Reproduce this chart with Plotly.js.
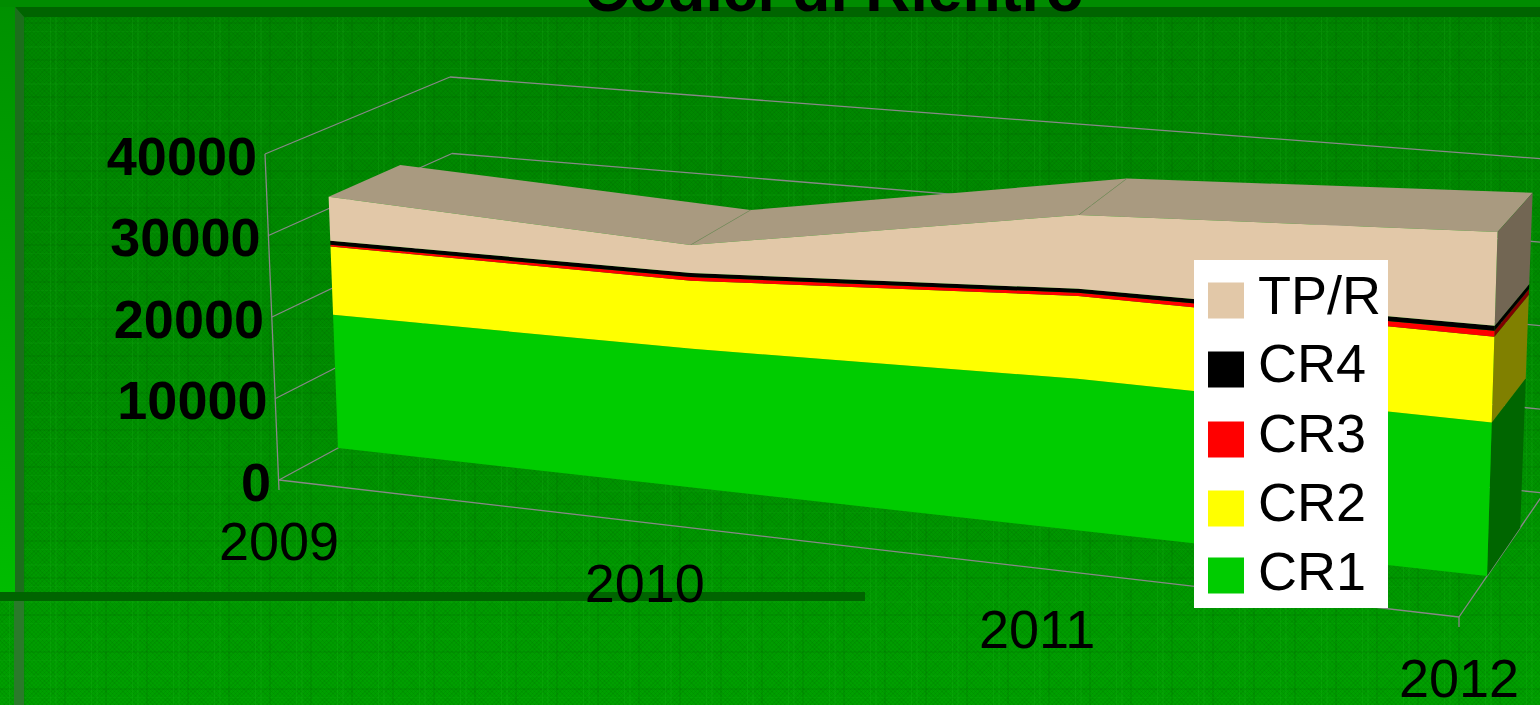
<!DOCTYPE html>
<html><head><meta charset="utf-8">
<script src="https://cdn.plot.ly/plotly-3.0.1.min.js"></script>
<style>
html,body{margin:0;padding:0;width:1540px;height:705px;overflow:hidden;background:#008800}
#chart{width:1540px;height:705px;
background:
 linear-gradient(180deg,#009000,#00BC00) 0 0/15px 592px no-repeat,
 repeating-linear-gradient(90deg,transparent 0 9px,rgba(40,200,40,.14) 9px 10px,transparent 10px 14px,rgba(40,200,40,.09) 14px 16px,transparent 16px 23px,rgba(0,70,0,.10) 23px 25px,transparent 25px 41px),
 repeating-linear-gradient(0deg,transparent 0 7px,rgba(40,200,40,.08) 7px 8px,transparent 8px 15px,rgba(0,70,0,.10) 15px 17px,transparent 17px 28px,rgba(40,200,40,.07) 28px 30px,transparent 30px 37px),
 repeating-linear-gradient(45deg,rgba(0,60,0,.08) 0 1px,transparent 1px 3px),
 repeating-linear-gradient(-45deg,rgba(0,60,0,.08) 0 1px,transparent 1px 3px),
 linear-gradient(180deg,#008600 0,#008c00 50%,#00a000 100%);}
</style></head><body><div id="chart"></div>
<script>
// ---- data ----
const years = [2009, 2010, 2011, 2012];
const CR1 = [16680, 16900, 17900, 17600];
const CR2 = [8560, 8300, 9800, 9830];
const CR3 = [210, 450, 360, 680];
const CR4 = [500, 490, 470, 580];
const TPR = [5520, 3405, 8730, 10740];
const seriesNames = ['CR1', 'CR2', 'CR3', 'CR4', 'TP/R'];
const seriesValues = [CR1, CR2, CR3, CR4, TPR];
const frontColors = ['#00CC00', '#FFFF00', '#FF0000', '#000000', '#E2C8A8'];
const sideColors = ['#006600', '#808000', '#800000', '#000000', '#726653'];
const topColor = '#A99A80';
const valueTicks = [0, 10000, 20000, 30000, 40000];
const chartTitle = 'Codici di Rientro';

// ---- 3D projection onto the flat page axes ----
const vMax = 40000, depthFront = 0.33, depthBack = 0.72, persp = 1.113;
const box = {
  fl0: [279, 480], fl1: [265, 154], bl0: [458, 383], bl1: [450, 77],
  fr0: [1459, 617], fr1: [1468, 260], br0: [1544, 493], br1: [1558, 160]
};
const lerp = (a, b, t) => [a[0] + (b[0] - a[0]) * t, a[1] + (b[1] - a[1]) * t];
function sOf(u) { return u / (u + persp * (1 - u)); }
function P(year, depth, value) {
  const s = sOf((year - years[0]) / (years[years.length - 1] - years[0]));
  const v = value / vMax;
  const floorF = lerp(box.fl0, box.fr0, s), floorB = lerp(box.bl0, box.br0, s);
  const topF = lerp(box.fl1, box.fr1, s), topB = lerp(box.bl1, box.br1, s);
  return lerp(lerp(floorF, floorB, depth), lerp(topF, topB, depth), v);
}
function poly(pts, color, name) {
  return { type: 'scatter', mode: 'lines', x: pts.map(p => p[0]).concat(pts[0][0]), y: pts.map(p => p[1]).concat(pts[0][1]),
    fill: 'toself', fillcolor: color, line: { width: 0, color: color }, name: name, showlegend: false, hoverinfo: 'skip' };
}
function seg(a, b, color, w) {
  return { type: 'scatter', mode: 'lines', x: [a[0], b[0]], y: [a[1], b[1]], line: { color: color, width: w }, showlegend: false, hoverinfo: 'skip' };
}
const traces = [];
const y0 = years[0], y1 = years[years.length - 1], grid = '#888888';

// walls and floor
valueTicks.forEach(v => {
  traces.push(seg(P(y0, 0, v), P(y0, 1, v), grid, 1.3));
  traces.push(seg(P(y0, 1, v), P(y1, 1, v), grid, 1.3));
});
traces.push(seg(P(y0, 0, 0), P(y1, 0, 0), grid, 1.3));
traces.push(seg(P(y1, 0, 0), P(y1, 1, 0), grid, 1.3));
traces.push(seg(P(y0, 0, vMax), [P(y0, 0, 0)[0], P(y0, 0, 0)[1] + 10], grid, 1.3));
traces.push(seg(P(y1, 0, 0), [P(y1, 0, 0)[0], P(y1, 0, 0)[1] + 10], grid, 1.3));

// cumulative stack
const cum = [years.map(() => 0)];
seriesValues.forEach((vals, i) => cum.push(vals.map((v, k) => cum[i][k] + v)));
const pileTop = cum[cum.length - 1];

// top surface of the pile
for (let k = 0; k < years.length - 1; k++) {
  traces.push(poly([P(years[k], depthFront, pileTop[k]), P(years[k + 1], depthFront, pileTop[k + 1]),
    P(years[k + 1], depthBack, pileTop[k + 1]), P(years[k], depthBack, pileTop[k])], topColor, 'top'));
}
for (let k = 1; k < years.length - 1; k++) {
  traces.push(seg(P(years[k], depthFront, pileTop[k]), P(years[k], depthBack, pileTop[k]), '#7d8a62', 0.7));
}
// right side, then front faces
seriesValues.forEach((vals, i) => {
  const n = years.length - 1;
  traces.push(poly([P(y1, depthFront, cum[i][n]), P(y1, depthBack, cum[i][n]),
    P(y1, depthBack, cum[i + 1][n]), P(y1, depthFront, cum[i + 1][n])], sideColors[i], seriesNames[i] + ' side'));
});
seriesValues.forEach((vals, i) => {
  const up = years.map((yr, k) => P(yr, depthFront, cum[i + 1][k]));
  const dn = years.map((yr, k) => P(yr, depthFront, cum[i][k])).reverse();
  traces.push(poly(up.concat(dn), frontColors[i], seriesNames[i]));
});

// axis labels
const labelFont = 'Liberation Sans, Arial, sans-serif';
traces.push({ type: 'scatter', mode: 'text', cliponaxis: false, showlegend: false, hoverinfo: 'skip',
  x: valueTicks.map(v => P(y0, 0, v)[0] - 8), y: valueTicks.map(v => P(y0, 0, v)[1] + 7),
  text: valueTicks.map(String), textposition: 'middle left',
  textfont: { family: labelFont, size: 54, color: '#000', weight: 700 } });
traces.push({ type: 'scatter', mode: 'text', cliponaxis: false, showlegend: false, hoverinfo: 'skip',
  x: years.map(yr => P(yr, 0, 0)[0]), y: years.map(yr => P(yr, 0, 0)[1] + 66),
  text: years.map(String), textposition: 'middle center',
  textfont: { family: labelFont, size: 54, color: '#000' } });

// legend panel
const legendOrder = [4, 3, 2, 1, 0];
const legendX = 1226, legendTextX = 1258, legendLeft = 1194, legendRight = 1388, legendTop = 260, legendBottom = 608;
const legendY = [300.5, 369.5, 439.5, 508.5, 575.5];
const legendTextY = [300, 368, 438, 507, 576];
traces.push(poly([[legendLeft, legendTop], [legendRight, legendTop], [legendRight, legendBottom], [legendLeft, legendBottom]], '#FFFFFF', 'legend box'));
traces.push({ type: 'scatter', mode: 'markers', showlegend: false, hoverinfo: 'skip',
  x: legendOrder.map(() => legendX), y: legendY,
  marker: { symbol: 'square', size: 36, color: legendOrder.map(i => frontColors[i]), line: { width: 0 } } });
traces.push({ type: 'scatter', mode: 'text', showlegend: false, hoverinfo: 'skip',
  x: legendOrder.map(() => legendTextX), y: legendTextY,
  text: legendOrder.map(i => seriesNames[i]), textposition: 'middle right',
  textfont: { family: labelFont, size: 54, color: '#000' } });

const layout = {
  width: 1540, height: 705, margin: { l: 0, r: 0, t: 0, b: 0, pad: 0 }, showlegend: false,
  paper_bgcolor: 'rgba(0,0,0,0)', plot_bgcolor: 'rgba(0,0,0,0)',
  title: { text: '<b>' + chartTitle + '</b>', x: 834 / 1540, xanchor: 'center', y: 0.984, yanchor: 'bottom', automargin: false,
    font: { family: labelFont, size: 62.5, color: '#000' } },
  xaxis: { range: [0, 1540], visible: false, fixedrange: true },
  yaxis: { range: [705, 0], visible: false, fixedrange: true },
  shapes: [
    { type: 'rect', layer: 'below', xref: 'x', yref: 'y', x0: 0, x1: 1540, y0: 0, y1: 7, fillcolor: '#008C00', line: { width: 0 } },
    { type: 'path', layer: 'below', xref: 'x', yref: 'y', path: 'M15 7 L1540 7 L1540 17 L24 17 Z', fillcolor: '#006400', line: { width: 0 } },
    { type: 'path', layer: 'below', xref: 'x', yref: 'y', path: 'M15 7 L24 17 L24 592 L15 592 Z', fillcolor: '#1C6E1C', line: { width: 0 } },
    { type: 'rect', layer: 'below', xref: 'x', yref: 'y', x0: 14, x1: 24, y0: 601, y1: 705, fillcolor: '#2A7A2A', line: { width: 0 } },
    { type: 'rect', layer: 'below', xref: 'x', yref: 'y', x0: 0, x1: 865, y0: 592, y1: 601, fillcolor: '#006400', line: { width: 0 } }
  ]
};
Plotly.newPlot('chart', traces, layout, { displayModeBar: false, staticPlot: true });
</script></body></html>
